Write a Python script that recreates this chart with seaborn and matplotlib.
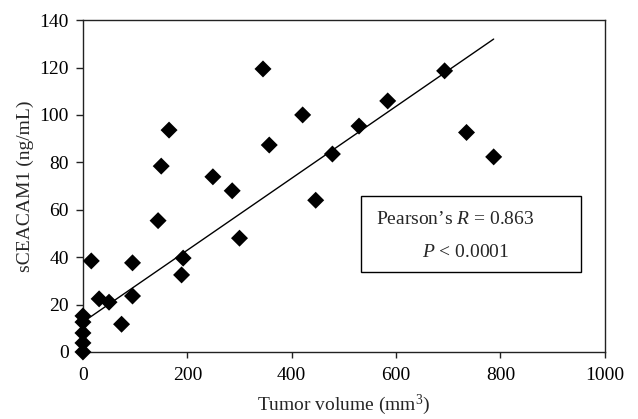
import numpy as np
import pandas as pd
import matplotlib.pyplot as plt
import matplotlib.patches as mpatches
import seaborn as sns

# ==============================
# Dados
# ==============================
tumor_volume = [0, 0, 0, 0, 0, 16, 31, 50, 74, 95, 95, 144, 150, 165, 189, 192,
                249, 286, 300, 345, 357, 421, 446, 478, 529, 584, 693, 735, 787]
sceacam1 = [0, 3.8, 8, 12.6, 15.2, 38.4, 22.4, 21, 11.7, 23.6, 37.6, 55.4, 78.4, 93.6,
            32.5, 39.6, 73.9, 68, 48, 119.4, 87.3, 100, 64, 83.5, 95.3, 105.9, 118.6,
            92.6, 82.3]

# reta de tendência (extremos)
fit_x = [0, 787]
fit_y = [12.6, 132]

df = pd.DataFrame({"vol": tumor_volume, "sceacam1": sceacam1})
fit = pd.DataFrame({"vol": fit_x, "sceacam1": fit_y})

sns.set_style("ticks")
plt.rcParams["font.family"] = ["Liberation Serif", "DejaVu Serif"]
plt.rcParams["mathtext.fontset"] = "custom"
plt.rcParams["mathtext.rm"] = "Liberation Serif"
plt.rcParams["mathtext.it"] = "Liberation Serif:italic"

fig = plt.figure(figsize=(6.38, 4.19), dpi=100)
ax = fig.add_axes([0.130, 0.160, 0.818, 0.792])

sns.lineplot(data=fit, x="vol", y="sceacam1", ax=ax, color="black", lw=1.0)
sns.scatterplot(data=df, x="vol", y="sceacam1", ax=ax, marker="D", s=75,
                color="black", edgecolor="none", clip_on=False, zorder=3)

ax.set_xlim(0, 1000)
ax.set_ylim(0, 140)
ax.set_xticks(range(0, 1001, 200))
ax.set_yticks(range(0, 141, 20))
for s in ax.spines.values():
    s.set_linewidth(1.0)
    s.set_color("#222222")
ax.tick_params(labelsize=14, width=1.0, colors="#222222", labelcolor="black")
ax.tick_params(axis="x", length=4, pad=7)
ax.tick_params(axis="y", length=5, pad=5)
ax.set_xlabel("Tumor volume (mm$^3$)", fontsize=14, labelpad=6)
ax.set_ylabel("sCEACAM1 (ng/mL)", fontsize=14, labelpad=4)

# caixa com estatística
ax.add_patch(mpatches.Rectangle((0.533, 0.241), 0.421, 0.229, transform=ax.transAxes,
                                fill=False, edgecolor="black", lw=1.0))
ax.text(0.561, 0.398, "Pearson’s $R$ = 0.863", transform=ax.transAxes,
        fontsize=14, va="center", ha="left")
ax.text(0.649, 0.301, "$P$ < 0.0001", transform=ax.transAxes,
        fontsize=14, va="center", ha="left")

fig.savefig("out.png", dpi=100)
